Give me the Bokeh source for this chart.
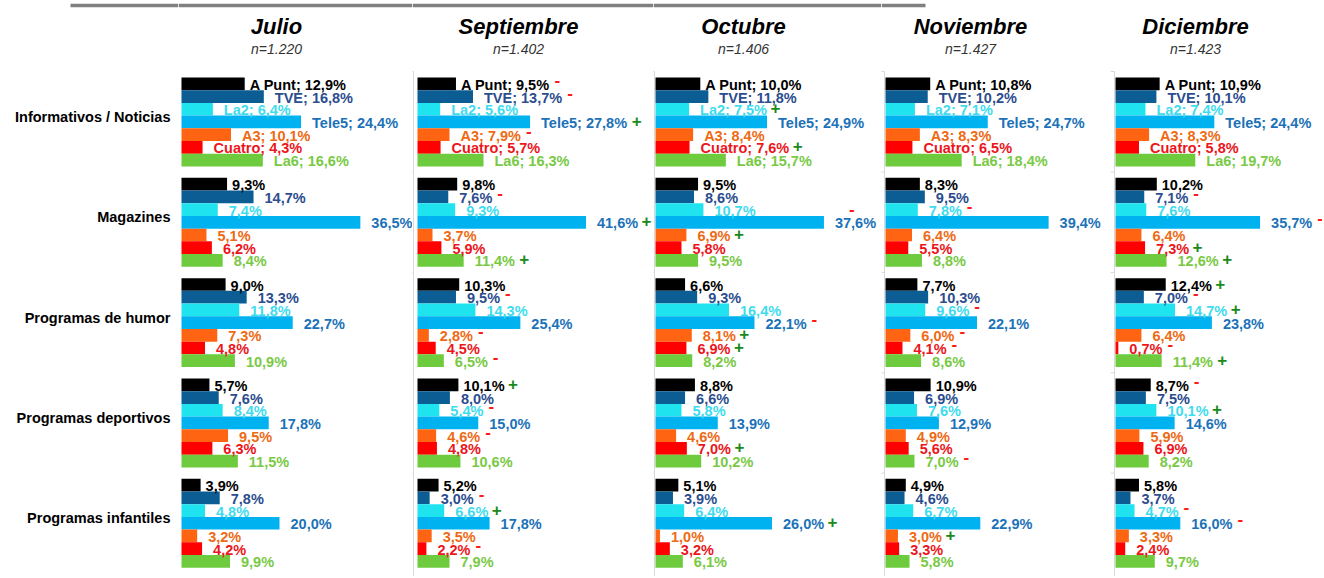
from bokeh.plotting import figure
from bokeh.layouts import row
from bokeh.models import Range1d, ColumnDataSource
from bokeh.core.properties import value, field
from bokeh.embed import file_html
from bokeh.resources import INLINE

# ---------------- data ----------------
months = ["Julio", "Septiembre", "Octubre", "Noviembre", "Diciembre"]
sample_sizes = ["n=1.220", "n=1.402", "n=1.406", "n=1.427", "n=1.423"]
categories = ["Informativos / Noticias", "Magazines", "Programas de humor",
              "Programas deportivos", "Programas infantiles"]
channels = ["A Punt", "TVE", "La2", "Tele5", "A3", "Cuatro", "La6"]

julio = [
    [12.9, 16.8, 6.4, 24.4, 10.1, 4.3, 16.6],
    [9.3, 14.7, 7.4, 36.5, 5.1, 6.2, 8.4],
    [9.0, 13.3, 11.8, 22.7, 7.3, 4.8, 10.9],
    [5.7, 7.6, 8.4, 17.8, 9.5, 6.3, 11.5],
    [3.9, 7.8, 4.8, 20.0, 3.2, 4.2, 9.9],
]
septiembre = [
    [9.5, 13.7, 5.6, 27.8, 7.9, 5.7, 16.3],
    [9.8, 7.6, 9.3, 41.6, 3.7, 5.9, 11.4],
    [10.3, 9.5, 14.3, 25.4, 2.8, 4.5, 6.5],
    [10.1, 8.0, 5.4, 15.0, 4.6, 4.8, 10.6],
    [5.2, 3.0, 6.6, 17.8, 3.5, 2.2, 7.9],
]
octubre = [
    [10.0, 11.8, 7.5, 24.9, 8.4, 7.6, 15.7],
    [9.5, 8.6, 10.7, 37.6, 6.9, 5.8, 9.5],
    [6.6, 9.3, 16.4, 22.1, 8.1, 6.9, 8.2],
    [8.8, 6.6, 5.8, 13.9, 4.6, 7.0, 10.2],
    [5.1, 3.9, 6.4, 26.0, 1.0, 3.2, 6.1],
]
noviembre = [
    [10.8, 10.2, 7.1, 24.7, 8.3, 6.5, 18.4],
    [8.3, 9.5, 7.8, 39.4, 6.4, 5.5, 8.8],
    [7.7, 10.3, 9.6, 22.1, 6.0, 4.1, 8.6],
    [10.9, 6.9, 7.6, 12.9, 4.9, 5.6, 7.0],
    [4.9, 4.6, 6.7, 22.9, 3.0, 3.3, 5.8],
]
diciembre = [
    [10.9, 10.1, 7.4, 24.4, 8.3, 5.8, 19.7],
    [10.2, 7.1, 7.6, 35.7, 6.4, 7.3, 12.6],
    [12.4, 7.0, 14.7, 23.8, 6.4, 0.7, 11.4],
    [8.7, 7.5, 10.1, 14.6, 5.9, 6.9, 8.2],
    [5.8, 3.7, 4.7, 16.0, 3.3, 2.4, 9.7],
]
# significant change vs previous wave, one char per channel ("+", "-", ".")
julio_cambio = [".......", ".......", ".......", ".......", "......."]
septiembre_cambio = ["--.+-..", ".-.+..+", ".-..-.-", "+.-.-..", ".-+..-."]
octubre_cambio = ["..+..+.", "...-+..", "...-++.", ".....+.", "...+..."]
noviembre_cambio = [".......", "..-....", "..-.--.", "......-", "....+.."]
diciembre_cambio = [".......", ".-.-.++", "+-+..-+", "-.+....", "..--..."]

# ---------------- style ----------------
FONT = "Liberation Sans"
bar_colors = ["#000000", "#0b5d94", "#1fe3ef", "#00b2f0", "#ff6412", "#ff0000", "#6dcb3d"]
label_colors = ["#000000", "#2c4d8e", "#3fdcee", "#1b72b8", "#ee6a14", "#ec1520", "#79c945"]
PLUS_COLOR = "#1a8a1a"
MINUS_COLOR = "#ff1a1a"

H = 576          # figure height (px)
U = 12.7         # px per bar
P = 7.9          # group pitch in bar units
TOP = 77         # px of first bar's top edge


def ypx(px):
    return -0.5 + (px - TOP) / U


Y_TOP = ypx(0)
Y_BOT = ypx(H)

ARIAL_B = {c: .556 for c in "0123456789"}
ARIAL_B.update({",": .278, "%": .889, ";": .333, " ": .278, "A": .722, "P": .667,
                "u": .611, "n": .611, "t": .333, "T": .611, "V": .667, "E": .667,
                "L": .611, "a": .556, "e": .556, "l": .278, "C": .722, "r": .389,
                "o": .611})
LBL_SIZE = 14.5


def text_w(s, size):
    return sum(ARIAL_B.get(c, .6) for c in s) * size


def fmt(v):
    return f"{v:.1f}".replace(".", ",") + "%"


def base_fig(width, x0, x1):
    p = figure(width=width, height=H, x_range=Range1d(x0, x1), y_range=Range1d(Y_BOT, Y_TOP),
               x_axis_location=None, y_axis_location=None, toolbar_location=None,
               output_backend="svg", min_border=0, outline_line_color=None)
    p.grid.visible = False
    return p


def make_panel(mi, vals, cambios, left, width, bar_px, line_px, ppp, title_px,
               topline_to=None, above=()):
    x0 = -(bar_px - left) / ppp
    x1 = x0 + width / ppp
    p = base_fig(width, x0, x1)

    # top rule
    if topline_to is not False:
        xe = x1 if topline_to is None else (topline_to - bar_px) / ppp
        p.segment(x0=[x0], x1=[xe], y0=[ypx(5)], y1=[ypx(5)],
                  line_color="#808080", line_width=3.5)

    # light category axis
    if line_px is not None:
        ax = (line_px - bar_px) / ppp
        tl = 4 / ppp
        ty = [ypx(71)] + [r * P + 6.5 + (P - 7) / 2 for r in range(len(categories) - 1)]
        p.segment(x0=[ax], x1=[ax], y0=[ypx(71)], y1=[Y_BOT], line_color="#d9d9d9", line_width=1)
        p.segment(x0=[ax - tl] * len(ty), x1=[ax] * len(ty), y0=ty, y1=ty,
                  line_color="#d9d9d9", line_width=1)

    bars = dict(y=[], v=[], clr=[])
    lbl_first = dict(y=[], v=[], txt=[], clr=[])
    lbl_rest = dict(y=[], v=[], txt=[], clr=[])
    mk = dict(y=[], v=[], txt=[], clr=[], xoff=[], yoff=[])
    for r, rowv in enumerate(vals):
        for b, v in enumerate(rowv):
            y = r * P + b
            bars["y"].append(y); bars["v"].append(v); bars["clr"].append(bar_colors[b])
            t = f"{channels[b]}; {fmt(v)}" if r == 0 else fmt(v)
            off = 5 if b == 0 else 11
            d = lbl_first if b == 0 else lbl_rest
            d["y"].append(y); d["v"].append(v); d["txt"].append(t); d["clr"].append(label_colors[b])
            c = cambios[r][b]
            if c in "+-":
                tw = text_w(t, LBL_SIZE)
                if (r, b) in above:
                    xo, yo = off + 14, -13
                else:
                    xo, yo = off + tw + (5 if c == "-" else 3.5), (-4 if c == "-" else -1)
                mk["y"].append(y); mk["v"].append(v); mk["txt"].append(c)
                mk["clr"].append(PLUS_COLOR if c == "+" else MINUS_COLOR)
                mk["xoff"].append(xo); mk["yoff"].append(yo)

    p.hbar(y="y", left=0, right="v", height=1.0, fill_color=field("clr"), line_color=None,
           source=ColumnDataSource(bars))
    for d, off in ((lbl_first, 5), (lbl_rest, 11)):
        p.text(x="v", y="y", text="txt", source=ColumnDataSource(d), text_color=field("clr"),
               x_offset=off, y_offset=1, text_font=value(FONT), text_font_style="bold",
               text_font_size=f"{LBL_SIZE}px", text_align="left", text_baseline="middle")
    if mk["y"]:
        p.text(x="v", y="y", text="txt", source=ColumnDataSource(mk), text_color=field("clr"),
               x_offset=field("xoff"), y_offset=field("yoff"), text_font=value(FONT),
               text_font_style="bold", text_font_size="17px", text_align="left",
               text_baseline="middle")

    tx = (title_px - bar_px) / ppp
    p.text(x=[tx], y=[ypx(25.5)], text=[months[mi]], text_font=value(FONT),
           text_font_style="bold italic", text_font_size="22px", text_color="#000000",
           text_align="center", text_baseline="middle")
    p.text(x=[tx], y=[ypx(48)], text=[sample_sizes[mi]], text_font=value(FONT),
           text_font_style="italic", text_font_size="14px", text_color="#333333",
           text_align="center", text_baseline="middle")
    return p


# category label column
lab = base_fig(178, 0, 178)
lab.segment(x0=[70], x1=[178], y0=[ypx(5)], y1=[ypx(5)], line_color="#808080", line_width=3.5)
lab.text(x=[170] * len(categories), y=[r * P + 2.6 for r in range(len(categories))],
         text=categories, text_font=value(FONT), text_font_style="bold",
         text_font_size="14.5px", text_color="#000000", text_align="right",
         text_baseline="middle")

# page x coordinates (left edge, width, bar origin, axis line, px per %, title centre)
p1 = make_panel(0, julio, julio_cambio, 178, 234, 181, None, 4.9, 276)
p2 = make_panel(1, septiembre, septiembre_cambio, 412, 241, 417, 413, 4.05, 518)
p3 = make_panel(2, octubre, octubre_cambio, 653, 228, 655, 654, 4.48, 743, above={(1, 3)})
p4 = make_panel(3, noviembre, noviembre_cambio, 881, 229, 885, 884, 4.14, 970, topline_to=925)
p5 = make_panel(4, diciembre, diciembre_cambio, 1110, 212, 1115, 1114, 4.05, 1195, topline_to=False)

layout = row(lab, p1, p2, p3, p4, p5, spacing=0)
open("out.html", "w").write(file_html(layout, INLINE))
